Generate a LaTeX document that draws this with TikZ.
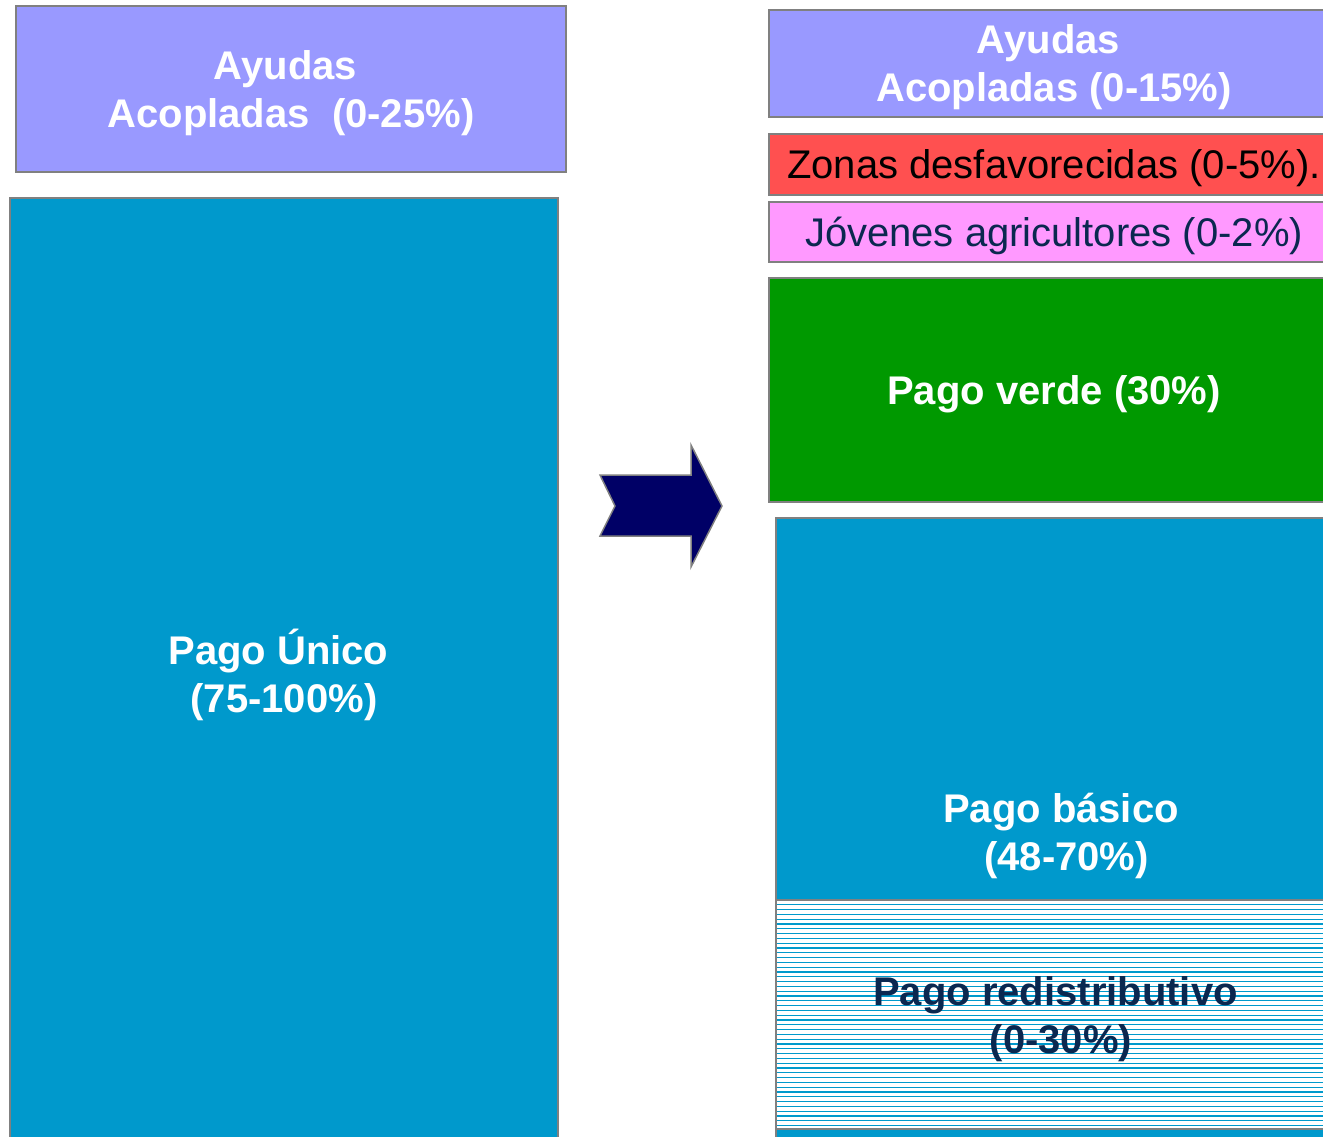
\documentclass[tikz,border=0pt]{standalone}
\usepackage{fontspec}
\setmainfont{Liberation Sans}
\definecolor{lila}{HTML}{9999FF}
\definecolor{azul}{HTML}{0099CC}
\definecolor{rojo}{HTML}{FF5050}
\definecolor{rosa}{HTML}{FF99FF}
\definecolor{verde}{HTML}{009900}
\definecolor{marino}{HTML}{000066}
\definecolor{tinta}{HTML}{0B2850}
\definecolor{borde}{HTML}{808080}
\begin{document}
\begin{tikzpicture}
  [x=1pt,y=-1pt,
  every node/.style={font=\fontsize{40}{48}\selectfont\bfseries,text=white,align=center,inner sep=0pt,outer sep=0pt,text depth=0pt},
  bx/.style 2 args={draw=borde,line width=2pt,minimum width=#1pt,minimum height=#2pt},
  fino/.style={font=\fontsize{40}{48}\selectfont},
  rayas/.style={fill=white,path picture={
    \foreach \k in {1,...,47}
      \draw[azul,line width=1.2pt] ([yshift=-\k*4.8pt]path picture bounding box.north west) -- ([yshift=-\k*4.8pt]path picture bounding box.north east);}}]
  \def\tsp{\hspace*{.278em}}
  \useasboundingbox (0,0) rectangle (1323,1137);
  % antes
  \node[bx={550}{166},fill=lila] (ayudasA) at (291,89) {Ayudas\tsp\\Acopladas\ \ (0-25\%)};
  \node[bx={548}{946},fill=azul] (unico) at (284,671) {Pago Único\tsp\\(75-100\%)};
  \fill[marino,draw=borde,line width=1.5pt] (600,475) -- (691,475) -- (691,445) -- (722,506)
    -- (691,567) -- (691,536) -- (600,536) -- (615,506) -- cycle;
  % despues
  \node[bx={570}{107},fill=lila] (ayudasB) at (1054,63.5) {Ayudas\tsp\\Acopladas (0-15\%)};
  \node[bx={570}{61},fill=rojo,fino,text=black] (zonas) at (1054,164.5) {Zonas desfavorecidas (0-5\%).};
  \node[bx={570}{60},fill=rosa,fino,text=tinta] (jovenes) at (1054,232) {Jóvenes agricultores (0-2\%)};
  \node[bx={570}{224},fill=verde] (pverde) at (1054,390) {Pago verde (30\%)};
  \node[bx={570}{627},fill=azul] (basico) at (1061,831.5) {Pago básico\\\tsp(48-70\%)};
  \node[bx={570}{229},rayas,text=tinta] (redis) at (1061,1014.5) {Pago redistributivo\tsp\\(0-30\%)};
\end{tikzpicture}
\end{document}
